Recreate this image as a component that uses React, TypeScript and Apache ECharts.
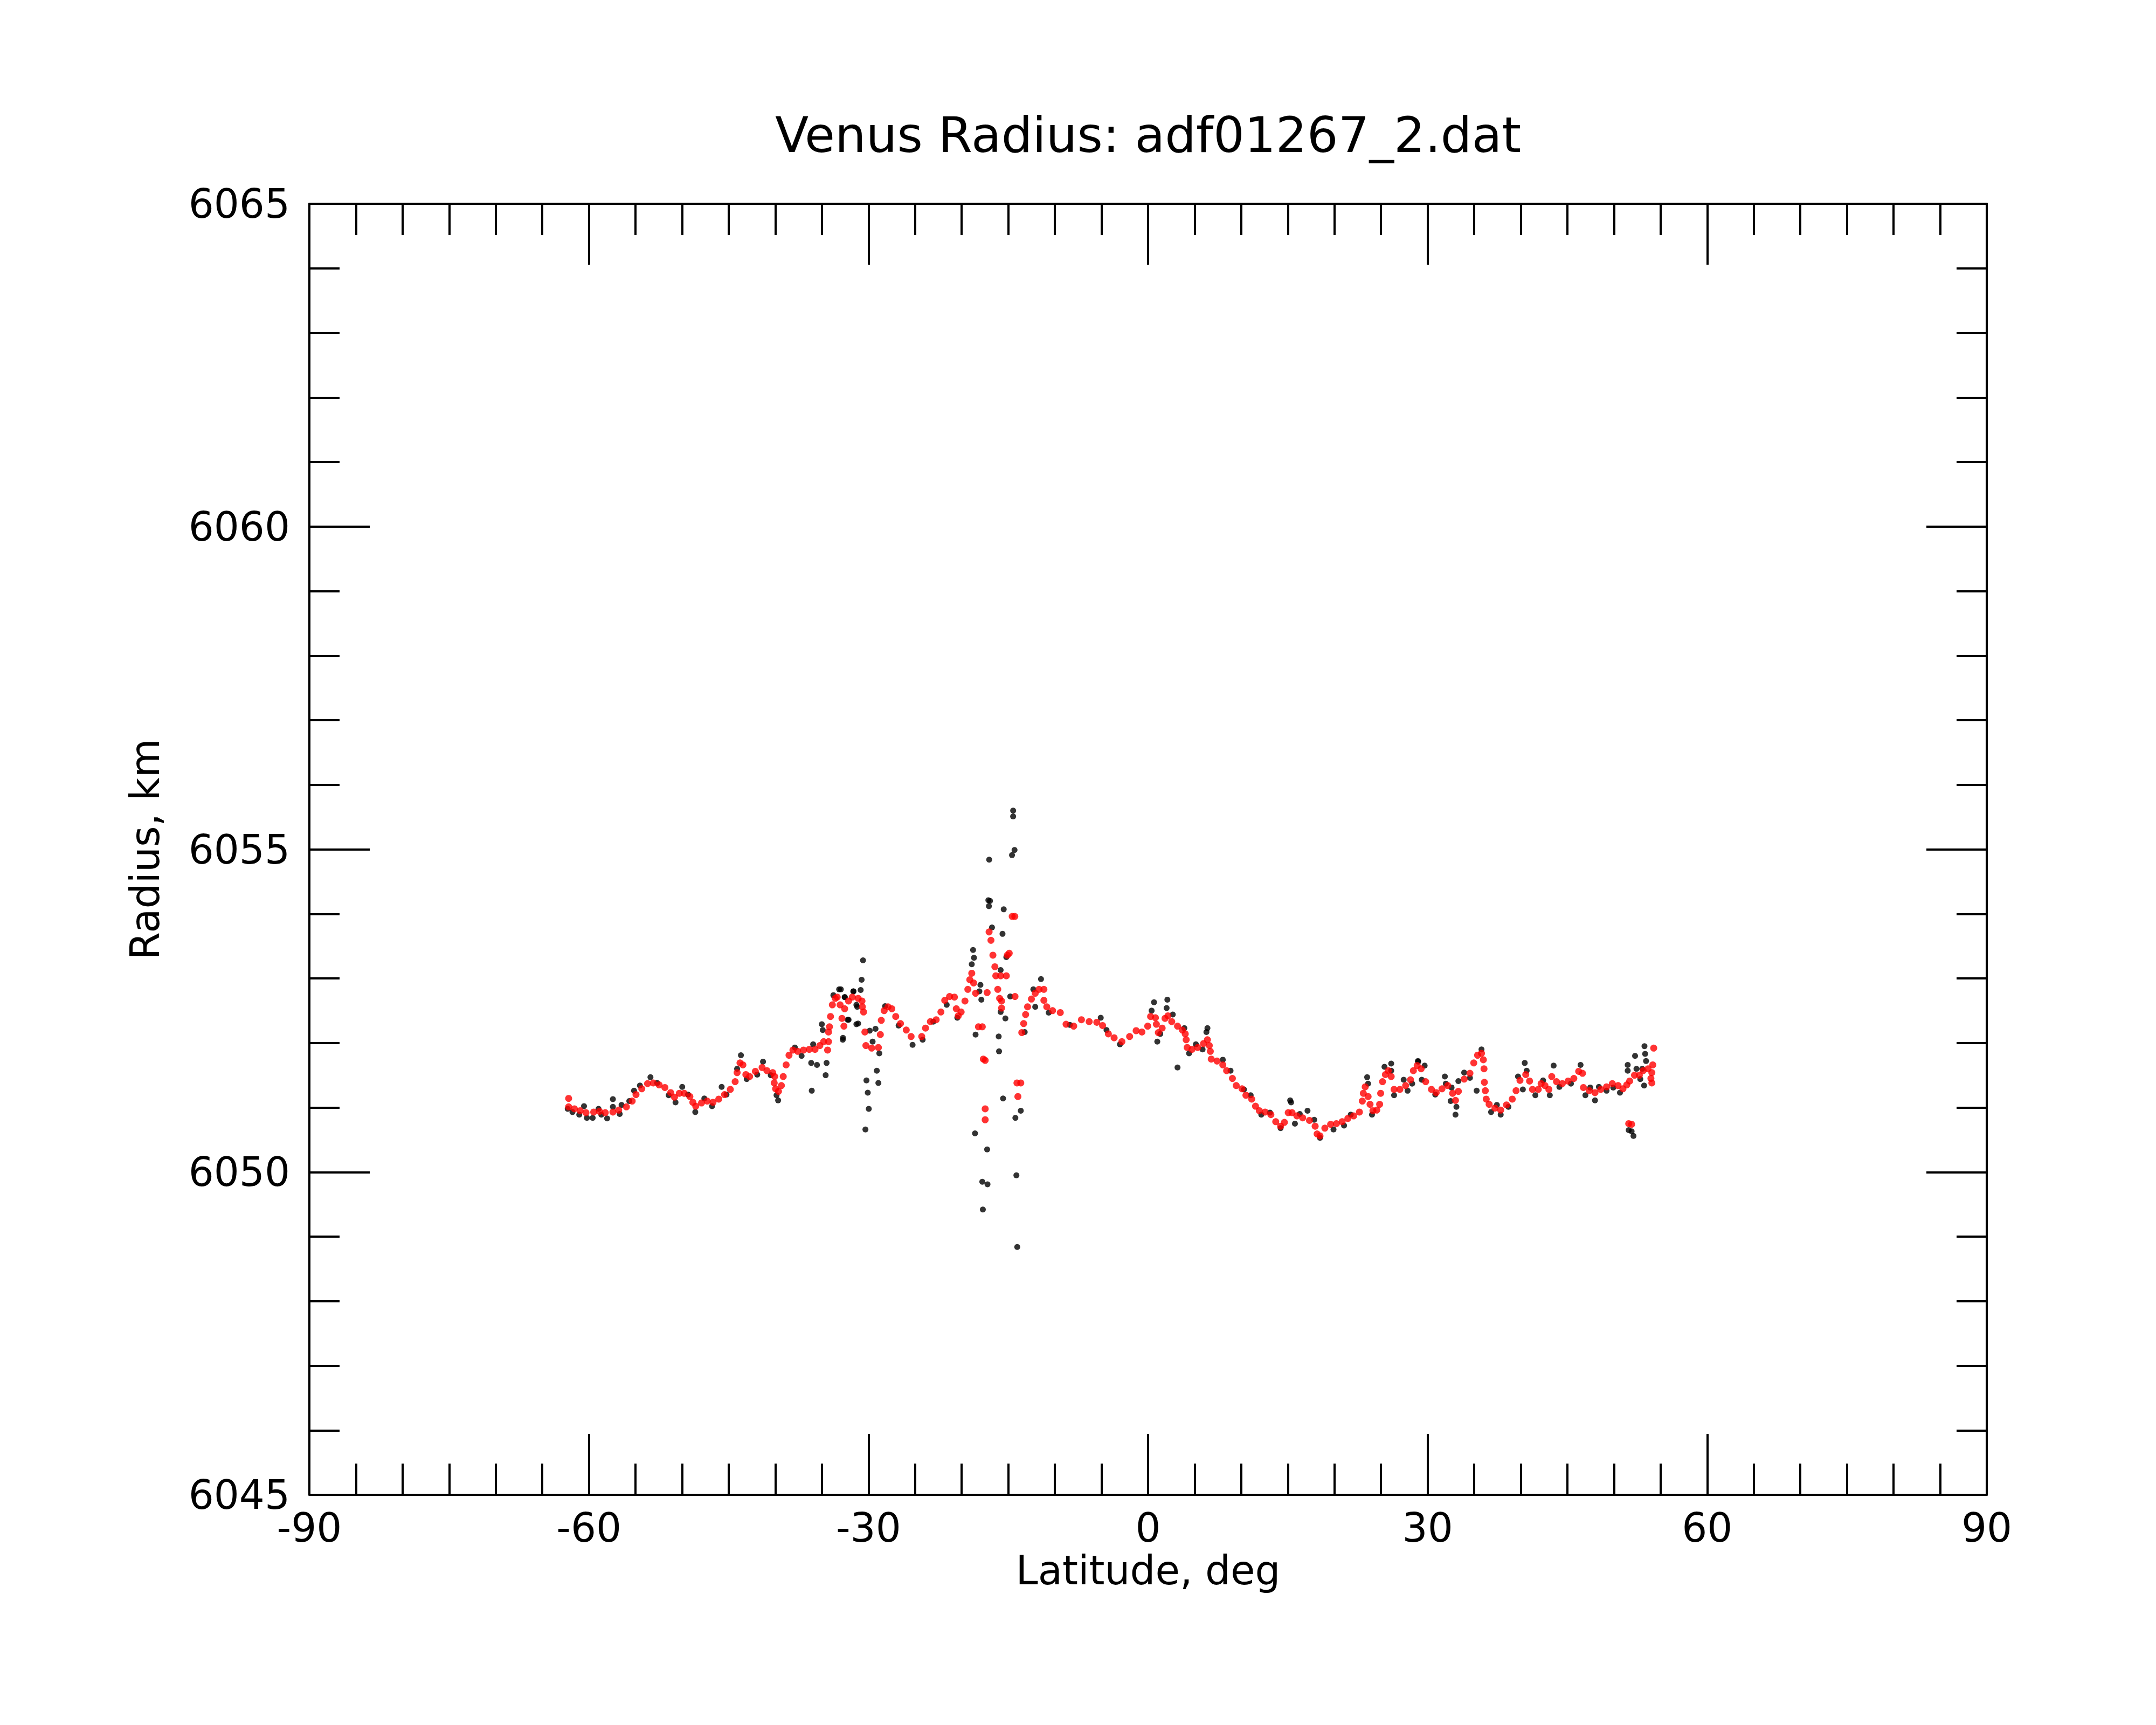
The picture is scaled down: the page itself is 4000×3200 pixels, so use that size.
import React, { useEffect, useRef } from "react";
import * as echarts from "echarts";

const FONT = "DejaVu Sans";
const TITLE = "Venus Radius: adf01267_2.dat";
const X_NAME = "Latitude, deg";
const Y_NAME = "Radius, km";
const X_MIN = -90, X_MAX = 90, X_STEP = 30;
const Y_MIN = 6045, Y_MAX = 6065, Y_STEP = 5;

// Raw radius samples (black)
const rawPoints: number[][] = [
  [-62.28,6050.98],[-61.77,6050.93],[-61.04,6050.89],[-60.53,6051.02],[-60.22,6050.84],[-59.60,6050.84],
  [-58.97,6050.98],[-58.67,6050.89],[-58.05,6050.83],[-57.43,6051.13],[-57.43,6051.01],[-56.70,6050.90],
  [-56.50,6051.04],[-55.67,6051.10],[-55.16,6051.26],[-54.53,6051.34],[-53.40,6051.47],[-52.68,6051.38],
  [-51.44,6051.19],[-50.71,6051.08],[-49.99,6051.32],[-49.37,6051.20],[-48.59,6050.93],[-47.62,6051.14],
  [-46.79,6051.02],[-45.76,6051.32],[-45.24,6051.20],[-44.10,6051.60],[-43.69,6051.81],[-43.07,6051.44],
  [-41.94,6051.51],[-41.32,6051.71],[-40.49,6051.50],[-39.87,6051.19],[-39.70,6051.11],[-37.90,6051.93],
  [-37.18,6051.80],[-36.15,6051.69],[-36.09,6051.26],[-35.94,6051.98],[-35.53,6051.66],[-35.01,6052.29],
  [-34.91,6052.20],[-34.60,6051.50],[-34.50,6051.69],[-33.77,6052.74],[-33.15,6052.83],[-32.97,6052.83],
  [-32.76,6052.05],[-32.74,6052.08],[-32.56,6052.71],[-32.54,6052.71],[-32.23,6052.36],[-32.14,6052.36],
  [-31.63,6052.80],[-31.61,6052.80],[-31.30,6052.59],[-31.30,6052.29],[-31.21,6052.56],[-31.11,6052.30],
  [-30.84,6052.82],[-30.74,6052.98],[-30.59,6053.28],[-30.33,6050.66],[-30.22,6051.42],[-30.08,6051.23],
  [-29.97,6050.98],[-29.87,6052.19],[-29.56,6052.02],[-29.25,6052.22],[-29.11,6051.57],[-28.94,6051.38],
  [-28.84,6051.84],[-28.22,6052.57],[-26.77,6052.27],[-25.27,6051.97],[-24.19,6052.05],[-23.05,6052.33],
  [-21.61,6052.59],[-20.47,6052.39],[-18.92,6053.22],[-18.78,6053.44],[-18.68,6053.32],[-18.57,6050.60],
  [-18.51,6052.13],[-18.10,6052.80],[-17.99,6052.90],[-17.89,6052.67],[-17.79,6049.85],[-17.73,6049.42],
  [-17.27,6050.35],[-17.23,6049.81],[-17.14,6054.21],[-17.08,6054.12],[-17.05,6054.84],[-16.96,6054.20],
  [-16.75,6053.79],[-16.03,6052.10],[-15.99,6051.87],[-15.82,6053.13],[-15.82,6052.48],[-15.62,6053.69],
  [-15.56,6051.14],[-15.49,6054.07],[-15.31,6052.38],[-15.21,6053.33],[-14.79,6052.72],[-14.60,6054.91],
  [-14.48,6055.60],[-14.48,6055.51],[-14.33,6054.99],[-14.24,6050.84],[-14.13,6049.95],[-14.04,6048.84],
  [-13.66,6050.95],[-13.24,6052.17],[-12.31,6052.83],[-12.11,6052.56],[-11.49,6052.99],[-10.66,6052.47],
  [-8.39,6052.28],[-5.08,6052.39],[-4.46,6052.20],[-3.02,6051.98],[0.38,6052.50],[0.64,6052.63],
  [0.99,6052.02],[1.31,6052.14],[1.99,6052.54],[2.07,6052.67],[2.65,6052.44],[3.16,6051.62],
  [3.89,6052.23],[4.40,6051.84],[5.13,6051.98],[5.85,6051.90],[6.26,6052.17],[6.37,6052.23],
  [8.02,6051.74],[8.85,6051.57],[10.29,6051.28],[11.01,6051.19],[12.15,6050.89],[13.08,6050.92],
  [14.22,6050.68],[15.25,6051.11],[15.35,6051.08],[15.76,6050.75],[16.28,6050.90],[17.11,6050.95],
  [17.83,6050.81],[18.45,6050.53],[19.90,6050.66],[21.03,6050.72],[21.75,6050.89],[23.51,6051.47],
  [23.61,6051.37],[24.03,6050.89],[25.37,6051.63],[26.09,6051.68],[26.09,6051.57],[26.40,6051.19],
  [27.43,6051.43],[27.85,6051.26],[28.34,6051.37],[28.96,6051.72],[28.99,6051.71],[29.37,6051.43],
  [29.68,6051.65],[30.82,6051.20],[31.85,6051.48],[31.95,6051.37],[32.47,6051.10],[32.57,6051.31],
  [32.99,6050.89],[33.09,6051.01],[33.30,6051.41],[33.92,6051.54],[34.54,6051.46],[35.26,6051.26],
  [35.78,6051.90],[36.81,6050.93],[37.43,6051.04],[37.84,6050.89],[38.67,6051.01],[39.70,6051.48],
  [40.22,6051.28],[40.42,6051.69],[40.63,6051.57],[41.56,6051.19],[42.39,6051.42],[43.11,6051.19],
  [43.52,6051.65],[44.14,6051.32],[45.38,6051.37],[46.41,6051.66],[46.93,6051.19],[47.45,6051.31],
  [47.96,6051.11],[48.38,6051.32],[49.20,6051.26],[49.92,6051.31],[50.64,6051.23],[51.47,6051.57],
  [51.47,6051.66],[51.58,6050.65],[51.89,6050.63],[52.09,6050.56],[52.26,6051.80],[52.41,6051.60],
  [52.82,6051.44],[53.03,6051.60],[53.23,6051.34],[53.27,6051.95],[53.34,6051.83],[53.44,6051.72]
];

// Fitted radius (red)
const fitPoints: number[][] = [
  [-62.18,6051.14],[-62.18,6051.01],[-61.56,6050.98],[-60.94,6050.95],[-60.32,6050.92],[-59.49,6050.93],
  [-58.87,6050.94],[-58.25,6050.92],[-57.43,6050.93],[-56.81,6050.96],[-55.98,6051.01],[-55.36,6051.10],
  [-54.95,6051.20],[-54.33,6051.29],[-53.71,6051.37],[-53.09,6051.38],[-52.47,6051.35],[-51.85,6051.31],
  [-51.23,6051.23],[-50.82,6051.16],[-50.30,6051.22],[-49.78,6051.22],[-49.17,6051.17],[-48.85,6051.08],
  [-48.54,6051.02],[-47.92,6051.07],[-47.31,6051.10],[-46.69,6051.08],[-46.07,6051.13],[-45.45,6051.20],
  [-44.83,6051.28],[-44.31,6051.40],[-44.10,6051.54],[-43.79,6051.69],[-43.48,6051.66],[-43.16,6051.51],
  [-42.76,6051.48],[-42.14,6051.56],[-41.42,6051.62],[-40.90,6051.57],[-40.28,6051.54],[-40.07,6051.48],
  [-40.12,6051.38],[-39.97,6051.29],[-39.66,6051.25],[-39.35,6051.34],[-39.15,6051.48],[-38.84,6051.66],
  [-38.53,6051.81],[-38.11,6051.89],[-37.60,6051.87],[-36.98,6051.89],[-36.36,6051.90],[-35.74,6051.90],
  [-35.22,6051.96],[-34.81,6052.02],[-34.39,6051.89],[-34.29,6052.02],[-34.29,6052.17],[-34.19,6052.25],
  [-34.08,6052.41],[-33.88,6052.59],[-33.57,6052.69],[-33.36,6052.71],[-33.05,6052.59],[-32.85,6052.38],
  [-32.64,6052.26],[-32.56,6052.53],[-32.14,6052.65],[-31.73,6052.71],[-31.11,6052.69],[-30.70,6052.65],
  [-30.66,6052.56],[-30.53,6052.48],[-30.39,6052.17],[-30.28,6051.96],[-29.66,6051.92],[-28.94,6051.93],
  [-28.73,6052.13],[-28.63,6052.35],[-28.32,6052.50],[-27.91,6052.56],[-27.50,6052.53],[-27.08,6052.41],
  [-26.57,6052.30],[-25.95,6052.20],[-25.43,6052.10],[-24.29,6052.10],[-23.88,6052.23],[-23.36,6052.33],
  [-22.74,6052.36],[-22.23,6052.48],[-21.82,6052.66],[-21.30,6052.72],[-20.78,6052.71],[-20.58,6052.53],
  [-20.37,6052.42],[-20.06,6052.48],[-19.65,6052.65],[-19.34,6052.83],[-19.13,6052.98],[-18.92,6053.08],
  [-18.72,6052.93],[-18.51,6052.77],[-18.20,6052.25],[-17.79,6052.25],[-17.68,6051.75],[-17.48,6051.73],
  [-17.48,6050.98],[-17.48,6050.81],[-17.27,6052.78],[-17.06,6053.72],[-16.86,6053.59],[-16.65,6053.36],
  [-16.44,6053.18],[-16.34,6053.04],[-16.13,6052.83],[-15.93,6052.69],[-15.82,6053.04],[-15.72,6052.65],
  [-15.72,6052.54],[-15.21,6053.04],[-15.10,6053.36],[-14.90,6053.39],[-14.58,6053.96],[-14.30,6053.96],
  [-14.28,6052.72],[-14.07,6051.38],[-13.97,6051.17],[-13.66,6051.38],[-13.55,6052.16],[-13.35,6052.30],
  [-13.14,6052.44],[-12.93,6052.56],[-12.52,6052.68],[-12.11,6052.77],[-11.70,6052.83],[-11.18,6052.83],
  [-11.18,6052.66],[-10.87,6052.56],[-10.25,6052.50],[-9.42,6052.47],[-8.80,6052.29],[-7.98,6052.26],
  [-7.15,6052.36],[-6.32,6052.33],[-5.50,6052.32],[-4.88,6052.27],[-4.26,6052.14],[-3.64,6052.08],
  [-2.81,6052.02],[-1.98,6052.10],[-1.28,6052.19],[-0.66,6052.17],[-0.04,6052.26],[0.27,6052.41],
  [0.79,6052.39],[0.89,6052.29],[1.10,6052.16],[1.51,6052.23],[1.82,6052.38],[2.13,6052.42],
  [2.54,6052.33],[3.16,6052.26],[3.68,6052.20],[3.99,6052.14],[4.09,6052.05],[4.20,6051.93],
  [4.71,6051.90],[5.33,6051.93],[5.95,6051.99],[6.37,6052.05],[6.57,6051.96],[6.68,6051.87],
  [6.78,6051.75],[7.40,6051.72],[8.02,6051.66],[8.43,6051.57],[9.05,6051.45],[9.46,6051.34],
  [10.08,6051.29],[10.50,6051.19],[11.12,6051.13],[11.53,6051.02],[11.94,6050.95],[12.56,6050.93],
  [13.18,6050.89],[13.70,6050.78],[14.22,6050.71],[14.63,6050.77],[15.04,6050.92],[15.45,6050.92],
  [15.97,6050.87],[16.59,6050.84],[17.32,6050.80],[17.93,6050.71],[18.14,6050.59],[18.45,6050.56],
  [18.97,6050.68],[19.59,6050.74],[20.21,6050.75],[20.83,6050.78],[21.44,6050.83],[22.06,6050.87],
  [22.68,6050.93],[22.99,6051.10],[23.10,6051.22],[23.30,6051.32],[23.61,6051.17],[23.82,6051.05],
  [24.13,6050.95],[24.54,6050.96],[24.85,6051.05],[24.96,6051.22],[25.16,6051.40],[25.47,6051.51],
  [25.78,6051.57],[26.09,6051.48],[26.40,6051.28],[27.02,6051.28],[27.64,6051.34],[28.16,6051.43],
  [28.47,6051.57],[28.88,6051.65],[29.30,6051.60],[29.79,6051.40],[30.41,6051.28],[30.92,6051.23],
  [31.54,6051.29],[32.16,6051.34],[32.68,6051.22],[32.99,6051.11],[33.30,6051.25],[33.92,6051.44],
  [34.54,6051.53],[34.95,6051.69],[35.36,6051.81],[35.78,6051.84],[35.98,6051.74],[36.05,6051.60],
  [36.09,6051.39],[36.19,6051.26],[36.29,6051.13],[36.60,6051.05],[37.22,6050.99],[37.84,6050.96],
  [38.46,6051.04],[39.08,6051.13],[39.49,6051.26],[39.91,6051.42],[40.53,6051.51],[40.94,6051.41],
  [41.25,6051.28],[41.87,6051.28],[42.18,6051.37],[42.59,6051.34],[43.01,6051.28],[43.32,6051.48],
  [43.83,6051.40],[44.45,6051.37],[45.07,6051.41],[45.69,6051.45],[46.21,6051.56],[46.62,6051.53],
  [46.72,6051.31],[47.35,6051.26],[47.96,6051.23],[48.58,6051.28],[49.20,6051.32],[49.82,6051.37],
  [50.44,6051.34],[50.96,6051.29],[51.37,6051.35],[51.58,6050.75],[51.68,6051.41],[51.89,6050.74],
  [52.20,6051.50],[52.72,6051.50],[53.13,6051.57],[53.65,6051.60],[53.96,6051.45],[54.06,6051.54],
  [54.06,6051.38],[54.16,6051.66],[54.26,6051.92]
];

const BLACK = "#000000";

function axisCommon(showLabel: boolean, major: number, minor: number, split: number) {
  return {
    axisLine: { show: true, onZero: false, lineStyle: { color: BLACK, width: 4 } },
    axisTick: { show: true, inside: true, length: major, lineStyle: { color: BLACK, width: 4 } },
    minorTick: { show: true, splitNumber: split, length: minor, lineStyle: { color: BLACK, width: 4 } },
    splitLine: { show: false },
    minorSplitLine: { show: false },
    axisLabel: {
      show: showLabel,
      fontSize: 74,
      color: BLACK,
      fontFamily: FONT,
      showMinLabel: true,
      showMaxLabel: true,
      formatter: (v: number) => String(v),
    },
  };
}

export default function App() {
  const ref = useRef<HTMLDivElement>(null);

  useEffect(() => {
    document.body.style.margin = "0";
    if (!ref.current) return;
    const chart = echarts.init(ref.current, null, { renderer: "svg" });
    const xBase = { type: "value", min: X_MIN, max: X_MAX, interval: X_STEP };
    const yBase = { type: "value", min: Y_MIN, max: Y_MAX, interval: Y_STEP };
    const xBottom: any = axisCommon(true, 113, 58, 6);
    xBottom.axisLabel.margin = 24;
    const yLeft: any = axisCommon(true, 112, 56, 5);
    yLeft.axisLabel.margin = 36;
    chart.setOption({
      animation: false,
      backgroundColor: "#ffffff",
      textStyle: { fontFamily: FONT },
      grid: { left: 574, right: 314, top: 378, bottom: 427, containLabel: false, outerBoundsMode: "none" },
      graphic: [
        {
          type: "text",
          x: 2130,
          y: 250,
          style: {
            text: TITLE,
            fontSize: 91,
            fontFamily: FONT,
            fill: BLACK,
            textAlign: "center",
            textVerticalAlign: "middle",
          },
        },
      ],
      xAxis: [
        {
          ...xBase,
          position: "bottom",
          ...xBottom,
          name: X_NAME,
          nameLocation: "middle",
          nameGap: 100,
          nameTextStyle: { fontSize: 74, color: BLACK, fontFamily: FONT, verticalAlign: "top" },
        },
        { ...xBase, position: "top", ...axisCommon(false, 113, 58, 6) },
      ],
      yAxis: [
        {
          ...yBase,
          position: "left",
          ...yLeft,
          name: Y_NAME,
          nameLocation: "middle",
          nameGap: 268,
          nameRotate: 90,
          nameTextStyle: { fontSize: 74, color: BLACK, fontFamily: FONT },
        },
        { ...yBase, position: "right", ...axisCommon(false, 112, 56, 5) },
      ],
      series: [
        {
          type: "scatter",
          xAxisIndex: 0,
          yAxisIndex: 0,
          data: rawPoints,
          symbol: "circle",
          symbolSize: 11,
          itemStyle: { color: BLACK },
          silent: true,
        },
        {
          type: "scatter",
          xAxisIndex: 0,
          yAxisIndex: 0,
          data: fitPoints,
          symbol: "circle",
          symbolSize: 13,
          itemStyle: { color: "#ff0000" },
          silent: true,
        },
      ],
    });
    return () => chart.dispose();
  }, []);

  return <div ref={ref} style={{ width: 4000, height: 3200, background: "#fff" }} />;
}
